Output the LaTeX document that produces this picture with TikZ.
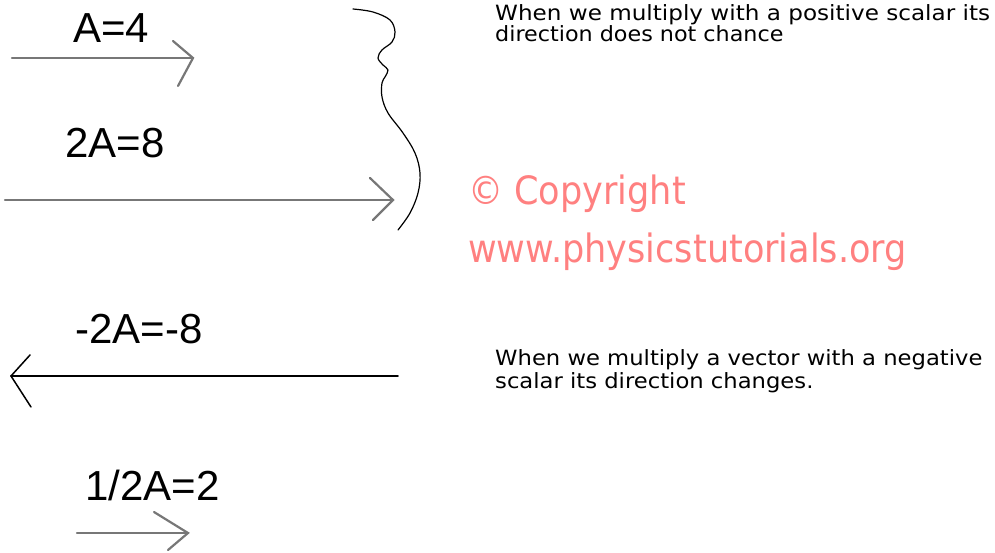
\documentclass[tikz,border=0pt]{standalone}
\usepackage{fontspec}
\setmainfont{Liberation Sans}
\newfontfamily\comicfont{DejaVu Sans}
\definecolor{arrowgray}{HTML}{777777}
\definecolor{salmon}{HTML}{FF8080}
\tikzset{
  veclabel/.style={anchor=base west, inner sep=0pt, font=\fontsize{42}{42}\selectfont},
  grayvec/.style={draw=arrowgray, line width=2.2pt, line cap=round},
  blackvec/.style={draw=black, line width=1.5pt, line cap=round},
  note/.style={anchor=base west, inner sep=0pt, align=left, text=black},
  copyr/.style={anchor=base west, inner sep=0pt, text=salmon, font=\comicfont\fontsize{39}{39}\selectfont},
}
\begin{document}
\begin{tikzpicture}[x=1pt,y=-1pt]
\useasboundingbox (0,0) rectangle (995,553);
% labels
\node[veclabel] (lA) at (73,43) {A=4};
\node[veclabel] (l2A) at (65,158) {2A=8};
\node[veclabel] (lm2A) at (75,343) {-2A=-8};
\node[veclabel] (lhA) at (85,500) {1/2A=2};
% vector A
\coordinate (a1s) at (12,58); \coordinate (a1t) at (193,58);
\coordinate (a1u) at (173,41); \coordinate (a1d) at (178,86);
\draw[grayvec] (a1s) -- (a1t);
\draw[grayvec] (a1u) -- (a1t) -- (a1d);
% vector 2A
\coordinate (a2s) at (5,200); \coordinate (a2t) at (393,200);
\coordinate (a2u) at (370,178); \coordinate (a2d) at (373,220);
\draw[grayvec] (a2s) -- (a2t);
\draw[grayvec] (a2u) -- (a2t) -- (a2d);
% vector -2A
\coordinate (a3s) at (398,376); \coordinate (a3t) at (11,376);
\coordinate (a3u) at (30,355); \coordinate (a3d) at (31,407);
\draw[blackvec] (a3s) -- (a3t);
\draw[blackvec] (a3u) -- (a3t) -- (a3d);
% vector 1/2A
\coordinate (a4s) at (77,533); \coordinate (a4t) at (188,533);
\coordinate (a4u) at (154,512); \coordinate (a4d) at (168,550);
\draw[grayvec] (a4s) -- (a4t);
\draw[grayvec] (a4u) -- (a4t) -- (a4d);
% brace
\draw[black, line width=1.2pt, line cap=round, line join=round]
  plot[smooth, tension=0.6] coordinates {(353,9) (373,12) (390,20) (395,32) (392,42) (382,50) (378,58) (383,65) (388,70) (385,77) (382,83) (382,97) (388,113) (403,133) (415,153) (420,173) (418,193) (410,213) (398,230)};
% notes
\node[note, font=\comicfont\fontsize{21}{16}\selectfont] (n1) at (495,42)
  {\scalebox{1.10}[1]{When we multiply with a positive scalar its}\\\scalebox{1.06}[1]{direction does not chance}};
\node[note, font=\comicfont\fontsize{21}{23}\selectfont] (n2) at (495,388)
  {\scalebox{1.08}[1]{When we multiply a vector with a negative}\\\scalebox{1.08}[1]{scalar its direction changes.}};
% copyright
\node[copyr] (c1) at (468,205) {\scalebox{0.9}[1]{© Copyright}};
\node[copyr] (c2) at (468,262) {\scalebox{0.9}[1]{www.physicstutorials.org}};
\end{tikzpicture}
\end{document}
